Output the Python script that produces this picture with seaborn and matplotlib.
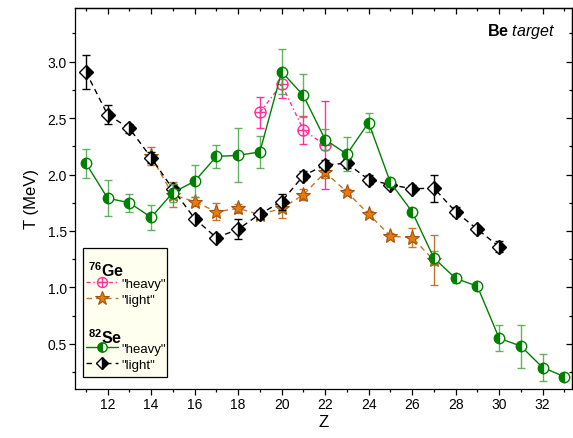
import numpy as np
import pandas as pd
import seaborn as sns
import matplotlib
matplotlib.use("Agg")
import matplotlib.pyplot as plt
from matplotlib.path import Path
from matplotlib.patches import Rectangle
from matplotlib.ticker import MultipleLocator

# ---------------- data ----------------
z_se_heavy = list(range(11, 34))
t_se_heavy = [2.10, 1.79, 1.75, 1.62, 1.84, 1.94, 2.16, 2.17, 2.20, 2.91, 2.70, 2.31,
              2.18, 2.46, 1.93, 1.67, 1.26, 1.08, 1.01, 0.55, 0.48, 0.29, 0.21]
e_se_heavy = [0.13, 0.16, 0.08, 0.11, 0.08, 0.14, 0.10, 0.24, 0.14, 0.20, 0.19, 0.09,
              0.15, 0.085, 0.04, 0.03, 0.06, 0.04, 0.0, 0.115, 0.19, 0.12, 0.03]

z_se_light = list(range(11, 31))
t_se_light = [2.91, 2.53, 2.41, 2.15, 1.87, 1.61, 1.44, 1.515, 1.65, 1.76, 1.99, 2.085,
              2.10, 1.955, 1.91, 1.873, 1.88, 1.67, 1.515, 1.36]
e_se_light = [0.15, 0.085, 0.04, 0.05, 0.05, 0.03, 0.03, 0.09, 0.04, 0.07, 0.04, 0.04,
              0.04, 0.04, 0.03, 0.03, 0.12, 0.04, 0.03, 0.05]

z_ge_light = list(range(14, 28))
t_ge_light = [2.16, 1.82, 1.76, 1.67, 1.70, 1.645, 1.70, 1.82, 2.02, 1.845, 1.65, 1.455,
              1.44, 1.24]
e_ge_light = [0.08, 0.11, 0.04, 0.075, 0.04, 0.03, 0.085, 0.05, 0.05, 0.03, 0.03, 0.03,
              0.085, 0.22]

z_ge_heavy = [19, 20, 21, 22]
t_ge_heavy = [2.55, 2.80, 2.395, 2.26]
e_ge_heavy = [0.14, 0.12, 0.125, 0.39]

x_ticks = [12, 14, 16, 18, 20, 22, 24, 26, 28, 30, 32]
y_ticks = [0.5, 1.0, 1.5, 2.0, 2.5, 3.0]

# ---------------- style ----------------
sns.set_theme(style="ticks")
plt.rcParams["font.family"] = ["Liberation Sans", "DejaVu Sans"]
plt.rcParams["mathtext.fontset"] = "custom"
plt.rcParams["mathtext.rm"] = "Liberation Sans"
plt.rcParams["mathtext.bf"] = "Liberation Sans:bold"
plt.rcParams["mathtext.it"] = "Liberation Sans:italic"
for k in ("text.color", "axes.labelcolor", "xtick.color", "ytick.color",
          "axes.edgecolor"):
    plt.rcParams[k] = "black"

GREEN = "#008000"
GREEN_ERR = "#45a845"
BLACK = "#000000"
PINK = "#ff3399"
ORANGE_FACE = "#e87b0c"
ORANGE_EDGE = "#a4530a"
ORANGE_LINE = "#c8742a"
ORANGE_ERR = "#c87533"

# circle with cross marker
circ = Path.unit_circle()
cross_h = Path([(-1, 0), (1, 0)], [Path.MOVETO, Path.LINETO])
cross_v = Path([(0, -1), (0, 1)], [Path.MOVETO, Path.LINETO])
oplus = Path.make_compound_path(circ, cross_h, cross_v)

fig = plt.figure(figsize=(5.73, 4.39), dpi=100)
ax = fig.add_axes([75 / 573, 1 - 390 / 439, 497 / 573, 381 / 439])

# ---- Ge heavy (pink) ----
ax.errorbar(z_ge_heavy, t_ge_heavy, yerr=e_ge_heavy, fmt="none", ecolor=PINK,
            elinewidth=1, capsize=3, capthick=1, zorder=2)
sns.lineplot(x=z_ge_heavy, y=t_ge_heavy, ax=ax, color=PINK, lw=1,
             linestyle=(0, (3, 2, 1, 2)), marker=oplus, markersize=8,
             markerfacecolor="none", markeredgecolor=PINK, markeredgewidth=1,
             zorder=3, legend=False)
h_ge_heavy = ax.lines[-1]

# ---- Ge light (orange stars) ----
ax.errorbar(z_ge_light, t_ge_light, yerr=e_ge_light, fmt="none", ecolor=ORANGE_ERR,
            elinewidth=1, capsize=3, capthick=1, zorder=4)
sns.lineplot(x=z_ge_light, y=t_ge_light, ax=ax, color=ORANGE_LINE, lw=1,
             linestyle=(0, (4, 3)), marker="*", markersize=11,
             markerfacecolor=ORANGE_FACE, markeredgecolor=ORANGE_EDGE,
             markeredgewidth=0.8, zorder=5, legend=False)
h_ge_light = ax.lines[-1]

# ---- Se light (black diamonds) ----
ax.errorbar(z_se_light, t_se_light, yerr=e_se_light, fmt="none", ecolor=BLACK,
            elinewidth=1, capsize=3, capthick=1, zorder=6)
sns.lineplot(x=z_se_light, y=t_se_light, ax=ax, color=BLACK, lw=1,
             linestyle=(0, (4, 3)), marker="D", markersize=7,
             fillstyle="right", markerfacecolor=BLACK, markerfacecoloralt="white",
             markeredgecolor=BLACK, markeredgewidth=1, zorder=7, legend=False)
h_se_light = ax.lines[-1]

# ---- Se heavy (green half-filled circles) ----
ax.errorbar(z_se_heavy, t_se_heavy, yerr=e_se_heavy, fmt="none", ecolor=GREEN_ERR,
            elinewidth=1, capsize=3, capthick=1, zorder=8, alpha=0.85)
sns.lineplot(x=z_se_heavy, y=t_se_heavy, ax=ax, color=GREEN, lw=1,
             linestyle="-", marker="o", markersize=7.5,
             fillstyle="left", markerfacecolor=GREEN, markerfacecoloralt="white",
             markeredgecolor=GREEN, markeredgewidth=1, zorder=9, legend=False)
h_se_heavy = ax.lines[-1]

# ---------------- axes ----------------
ax.set_xlim(10.5, 33.35)
ax.set_ylim(0.1, 3.475)
ax.set_xticks(x_ticks)
ax.set_yticks(y_ticks)
ax.set_xticklabels([str(v) for v in x_ticks])
ax.set_yticklabels([f"{v:.1f}" for v in y_ticks])
ax.xaxis.set_minor_locator(MultipleLocator(1))
ax.yaxis.set_minor_locator(MultipleLocator(0.25))
ax.tick_params(which="major", direction="out", length=4, width=0.9,
               labelsize=10, colors="black", pad=2)
ax.tick_params(which="minor", direction="out", length=2.2, width=0.9)
for s in ax.spines.values():
    s.set_visible(True)
    s.set_linewidth(0.9)
    s.set_color("black")

sec_top = ax.secondary_xaxis("top")
sec_top.set_xticks(x_ticks)
sec_top.xaxis.set_minor_locator(MultipleLocator(1))
sec_top.tick_params(which="major", direction="in", length=4, width=0.9, labeltop=False)
sec_top.tick_params(which="minor", direction="in", length=2.2, width=0.9)
sec_right = ax.secondary_yaxis("right")
sec_right.set_yticks(y_ticks)
sec_right.yaxis.set_minor_locator(MultipleLocator(0.25))
sec_right.tick_params(which="major", direction="in", length=4, width=0.9, labelright=False)
sec_right.tick_params(which="minor", direction="in", length=2.2, width=0.9)
for sec in (sec_top, sec_right):
    for s in sec.spines.values():
        s.set_linewidth(0.9)

ax.set_xlabel("Z", fontsize=12, labelpad=2)
ax.set_ylabel("T (MeV)", fontsize=12, labelpad=6)

ax.text(0.966, 0.94, r"$\mathbf{Be}$ $\mathit{target}$", transform=ax.transAxes,
        ha="right", va="center", fontsize=11.5, color="black")

# ---------------- legend ----------------
box = Rectangle((0.016, 0.0315), 0.169, 0.3385, transform=ax.transAxes,
                facecolor="#ffffef", edgecolor="black", lw=0.9, zorder=20)
ax.add_patch(box)
ax.text(0.026, 0.312, r"$^{\mathbf{76}}$Ge", transform=ax.transAxes, ha="left",
        va="center", fontsize=11.5, fontweight="bold", zorder=21)
ax.text(0.026, 0.1365, r"$^{\mathbf{82}}$Se", transform=ax.transAxes, ha="left",
        va="center", fontsize=11.5, fontweight="bold", zorder=21)

leg_kw = dict(frameon=False, fontsize=9.5, handlelength=2.4, handletextpad=0.3,
              labelspacing=0.3, borderpad=0, borderaxespad=0, loc="upper left",
              markerscale=0.9)
leg1 = ax.legend([h_ge_heavy, h_ge_light], ['"heavy"', '"light"'],
                 bbox_to_anchor=(0.022, 0.2927), **leg_kw)
leg1.set_zorder(22)
ax.add_artist(leg1)
leg2 = ax.legend([h_se_heavy, h_se_light], ['"heavy"', '"light"'],
                 bbox_to_anchor=(0.022, 0.122), **leg_kw)
leg2.set_zorder(22)

fig.savefig("out.png", dpi=100)
